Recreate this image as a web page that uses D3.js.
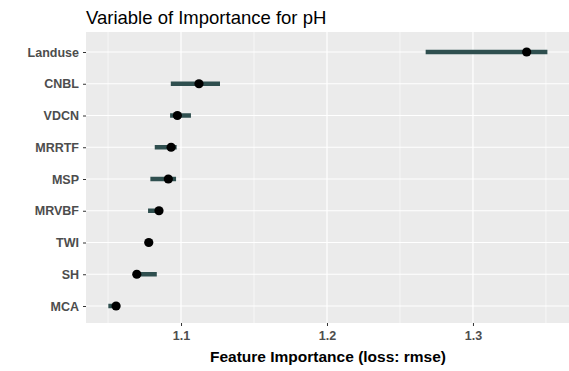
<!DOCTYPE html>
<html>
<head>
<meta charset="utf-8">
<script src="https://cdn.jsdelivr.net/npm/d3@7"></script>
<style>
  html, body { margin: 0; padding: 0; background: #fff; }
  svg { display: block; font-family: "Liberation Sans", Arial, sans-serif; }
</style>
</head>
<body>
<svg id="chart" width="569" height="371"></svg>
<script>
// Permutation feature importance for pH (loss: rmse)
const features   = ["Landuse", "CNBL", "VDCN", "MRRTF", "MSP", "MRVBF", "TWI", "SH", "MCA"];
const importance = [1.3368, 1.1123, 1.0975, 1.0932, 1.0913, 1.0849, 1.0779, 1.0697, 1.0555];
const lower      = [1.2676, 1.0930, 1.0925, 1.0820, 1.0790, 1.0774, 1.0760, 1.0690, 1.0502];
const upper      = [1.3510, 1.1267, 1.1068, 1.0970, 1.0966, 1.0860, 1.0790, 1.0834, 1.0570];
const xTicks     = [1.1, 1.2, 1.3];
const xMinor     = [1.05, 1.15, 1.25, 1.35];

const svg = d3.select("#chart");
const panel = { left: 86, right: 569, top: 32, bottom: 323 };

const x = d3.scaleLinear()
  .domain([1.0349, 1.3658])
  .range([panel.left, panel.right]);

// rows sit 0.63 steps inside the panel edges
const y = d3.scalePoint()
  .domain(features)
  .range([52, 306]);

// panel background
svg.append("rect")
  .attr("x", panel.left).attr("y", panel.top)
  .attr("width", panel.right - panel.left)
  .attr("height", panel.bottom - panel.top)
  .attr("fill", "#EBEBEB");

// grid lines
const grid = svg.append("g");
grid.selectAll(".minor").data(xMinor).join("line")
  .attr("x1", d => x(d)).attr("x2", d => x(d))
  .attr("y1", panel.top).attr("y2", panel.bottom)
  .attr("stroke", "#fff").attr("stroke-width", 0.6);
grid.selectAll(".majx").data(xTicks).join("line")
  .attr("x1", d => x(d)).attr("x2", d => x(d))
  .attr("y1", panel.top).attr("y2", panel.bottom)
  .attr("stroke", "#fff").attr("stroke-width", 1.2);
grid.selectAll(".majy").data(features).join("line")
  .attr("x1", panel.left).attr("x2", panel.right)
  .attr("y1", d => y(d)).attr("y2", d => y(d))
  .attr("stroke", "#fff").attr("stroke-width", 1.2);

// interval bars
const rows = features.map((f, i) => ({ f, v: importance[i], lo: lower[i], hi: upper[i] }));
svg.append("g").selectAll("line").data(rows).join("line")
  .attr("x1", d => x(d.lo)).attr("x2", d => x(d.hi))
  .attr("y1", d => y(d.f)).attr("y2", d => y(d.f))
  .attr("stroke", "#2F4F4F").attr("stroke-width", 4.5);

// points
svg.append("g").selectAll("circle").data(rows).join("circle")
  .attr("cx", d => x(d.v)).attr("cy", d => y(d.f))
  .attr("r", 4.6).attr("fill", "#000");

// x axis
const xAxis = svg.append("g")
  .attr("transform", `translate(0,${panel.bottom})`)
  .call(d3.axisBottom(x).tickValues(xTicks).tickSize(3).tickPadding(5).tickFormat(d3.format(".1f")));
xAxis.select(".domain").remove();
xAxis.selectAll(".tick line").attr("stroke", "#333");
xAxis.selectAll(".tick text")
  .attr("fill", "#4D4D4D").attr("font-size", 12.5).attr("font-weight", "bold")
  .attr("font-family", "Liberation Sans, Arial, sans-serif");

// y axis
const yAxis = svg.append("g")
  .attr("transform", `translate(${panel.left},0)`)
  .call(d3.axisLeft(y).tickSize(3).tickPadding(4));
yAxis.select(".domain").remove();
yAxis.selectAll(".tick line").attr("stroke", "#333");
yAxis.selectAll(".tick text")
  .attr("fill", "#4D4D4D").attr("font-size", 12.5).attr("font-weight", "bold")
  .attr("font-family", "Liberation Sans, Arial, sans-serif");

// axis title
svg.append("text")
  .attr("x", 328).attr("y", 362)
  .attr("text-anchor", "middle")
  .attr("font-size", 15.5).attr("font-weight", "bold").attr("fill", "#000")
  .text("Feature Importance (loss: rmse)");

// chart title
svg.append("text")
  .attr("x", panel.left).attr("y", 24)
  .attr("font-size", 18.5).attr("fill", "#000")
  .text("Variable of Importance for pH");
</script>
</body>
</html>
